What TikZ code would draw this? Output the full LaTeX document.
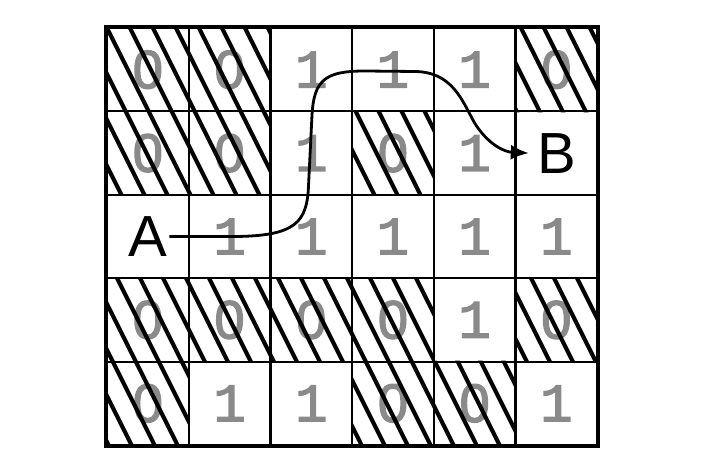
\documentclass[tikz,border=0pt]{standalone}
\usepackage{fontspec}
\usetikzlibrary{arrows.meta}
\newfontfamily\digitfont[FakeBold=2.5]{Liberation Mono}
\newfontfamily\zerofont[FakeBold=2.5]{Liberation Sans}
\newfontfamily\labelfont{Liberation Sans}
\definecolor{digitgray}{RGB}{138,138,138}
\tikzset{
  cell/.style={draw=black, line width=2.2pt, minimum width=81.7pt, minimum height=83.4pt,
    inner sep=0pt, text=digitgray, font=\fontsize{54}{54}\selectfont},
  endlabel/.style={inner sep=2pt, text=black, font=\labelfont\fontsize{58}{58}\selectfont},
  hatchline/.style={line width=4.2pt, black},
  border/.style={line width=3.5pt, black},
  route/.style={line width=2.8pt, black, -{Latex[length=18pt,width=15pt]}}
}
\newcommand{\dzero}{{\zerofont 0}}
\newcommand{\done}{{\digitfont 1}}
\begin{document}
\begin{tikzpicture}[x=1pt,y=-1pt]
\useasboundingbox (0,0) rectangle (712,470);
\def\cw{81.7}
\def\rh{83.4}
% cells: row/column, digit (empty for A and B)
\foreach \r/\c/\d in {0/0/\dzero,0/1/\dzero,0/2/\done,0/3/\done,0/4/\done,0/5/\dzero,
                       1/0/\dzero,1/1/\dzero,1/2/\done,1/3/\dzero,1/4/\done,1/5/{},
                       2/0/{},2/1/\done,2/2/\done,2/3/\done,2/4/\done,2/5/\done,
                       3/0/\dzero,3/1/\dzero,3/2/\dzero,3/3/\dzero,3/4/\done,3/5/\dzero,
                       4/0/\dzero,4/1/\done,4/2/\done,4/3/\dzero,4/4/\dzero,4/5/\done}{
  \node[cell] (c-\r-\c) at ({107+\cw*(\c+0.5)},{28+\rh*(\r+0.5)}) {\d};
}
% hatching of the 0 cells
\begin{scope}
  \clip \foreach \r/\c in {0/0,0/1,0/5,1/0,1/1,1/3,3/0,3/1,3/2,3/3,3/5,4/0,4/3,4/4}{
    (c-\r-\c.north west) rectangle (c-\r-\c.south east)};
  \foreach \k in {-298,-275,...,620}{
    \draw[hatchline] (\k,0) -- ({\k+235},470);
  }
\end{scope}
% outer border
\draw[border] (c-0-0.north west) rectangle (c-4-5.south east);
% start and goal
\node[endlabel] (A) at (c-2-0) {A};
\node[endlabel] (B) at (c-1-5) {B};
% route
\draw[route] (A.east) -- (235,236.5)
  .. controls (296,236) and (307,222) .. (308.5,186)
  -- (312,115)
  .. controls (314,80) and (325,71) .. (365,71)
  -- (415,71.5)
  .. controls (452,72) and (462,100) .. (474,122)
  .. controls (488,145) and (505,152) .. ([xshift=-6pt]B.west);
\end{tikzpicture}
\end{document}
